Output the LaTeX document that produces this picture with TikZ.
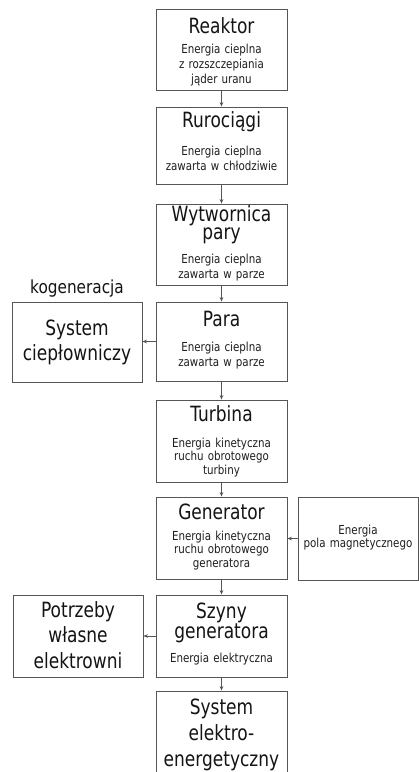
\documentclass[tikz,border=0pt]{standalone}
\usepackage{fontspec}
\setmainfont{DejaVu Sans}[FakeStretch=0.85]
\newfontfamily\titlefont{DejaVu Sans}[FakeStretch=0.81]
\newfontfamily\notefont{DejaVu Sans}[FakeStretch=0.83]
\usetikzlibrary{arrows.meta}
\definecolor{edge}{HTML}{555555}
\definecolor{ink}{HTML}{141414}
\definecolor{subink}{HTML}{1E1E1E}
\begin{document}
\begin{tikzpicture}[x=1pt,y=-1pt,
  blk/.style={draw=edge, line width=0.8pt, fill=white, inner sep=0pt},
  ttl/.style={anchor=base, text=ink, align=center, text width=150pt, inner sep=0pt,
    font=\titlefont\fontsize{21}{#1}\selectfont},
  ttl/.default=25.5,
  sub/.style={anchor=base, text=subink, align=center, text width=150pt, inner sep=0pt,
    font=\notefont\fontsize{12.4}{#1}\selectfont},
  sub/.default=15,
  arr/.style={draw=edge, line width=0.7pt, -{Stealth[length=4.5pt,width=3.6pt]}}]
\useasboundingbox (0,0) rectangle (419,772);

% main chain of energy conversion
\node[blk, minimum width=131pt, minimum height=81pt] (reaktor) at (221.5,49.5) {};
\node[blk, minimum width=131pt, minimum height=77pt] (ruro) at (221.5,145.5) {};
\node[blk, minimum width=131pt, minimum height=81pt] (wytw) at (221.5,244.5) {};
\node[blk, minimum width=131pt, minimum height=79pt] (para) at (221.5,341.5) {};
\node[blk, minimum width=131pt, minimum height=82pt] (turb) at (221.5,441) {};
\node[blk, minimum width=131pt, minimum height=82pt] (gen) at (221.5,538) {};
\node[blk, minimum width=131pt, minimum height=82pt] (szyny) at (221.5,636) {};
\node[blk, minimum width=131pt, minimum height=110pt] (ee) at (221.5,746) {};

% side boxes
\node[blk, minimum width=130pt, minimum height=80pt] (ciepl) at (77,342) {};
\node[blk, minimum width=130pt, minimum height=82pt] (potrz) at (78,636) {};
\node[blk, minimum width=120pt, minimum height=83pt] (pola) at (358,538.5) {};

% labels
\node[ttl] (reaktorT) at (221.5,33) {Reaktor};
\node[sub] (reaktorS) at (221.5,53) {Energia cieplna\\z rozszczepiania\\jąder uranu};

\node[ttl] (ruroT) at (221.5,127) {Rurociągi};
\node[sub] (ruroS) at (221.5,155) {Energia cieplna\\zawarta w chłodziwie};

\node[ttl=18] (wytwT) at (221.5,221) {Wytwornica\\pary};
\node[sub] (wytwS) at (221.5,263) {Energia cieplna\\zawarta w parze};

\node[ttl] (paraT) at (221.5,326) {Para};
\node[sub] (paraS) at (221.5,351) {Energia cieplna\\zawarta w parze};

\node[ttl] (turbT) at (221.5,421) {Turbina};
\node[sub=13.5] (turbS) at (221.5,447) {Energia kinetyczna\\ruchu obrotowego\\turbiny};

\node[ttl] (genT) at (221.5,519) {Generator};
\node[sub=13.5] (genS) at (221.5,540) {Energia kinetyczna\\ruchu obrotowego\\generatora};

\node[ttl=20] (szynyT) at (221.5,618) {Szyny\\generatora};
\node[sub] (szynyS) at (221.5,662) {Energia elektryczna};

\node[ttl=26] (eeT) at (221.5,714) {System\\elektro-\\energetyczny};

\node[ttl=25] (cieplT) at (77,335) {System\\ciepłowniczy};
\node[ttl=25.5] (potrzT) at (78,617) {Potrzeby\\własne\\elektrowni};
\node[sub=13] (polaS) at (358,534) {Energia\\pola magnetycznego};

\node[anchor=base, text=ink, inner sep=0pt, font=\fontsize{18}{20}\selectfont] (kog) at (77,293) {kogeneracja};

% connectors
\draw[arr] (reaktor) -- (ruro);
\draw[arr] (ruro) -- (wytw);
\draw[arr] (wytw) -- (para);
\draw[arr] (para) -- (turb);
\draw[arr] (turb) -- (gen);
\draw[arr] (gen) -- (szyny);
\draw[arr] (szyny) -- (ee);
\draw[arr] (para.west) -- (ciepl.east |- para.west);
\draw[arr] (pola.west) -- (gen.east |- pola.west);
\draw[arr] (szyny.west) -- (potrz.east |- szyny.west);
\end{tikzpicture}
\end{document}
